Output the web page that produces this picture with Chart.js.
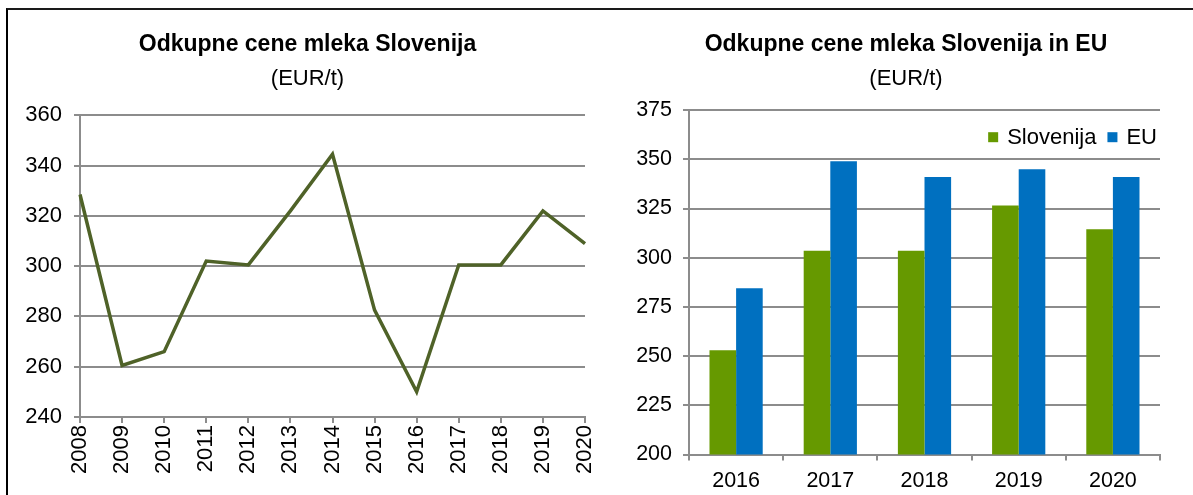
<!DOCTYPE html>
<html lang="sl">
<head>
<meta charset="utf-8">
<title>Odkupne cene mleka</title>
<script src="https://cdn.jsdelivr.net/npm/chart.js@4.4.1/dist/chart.umd.min.js"></script>
<style>
    html, body { margin: 0; padding: 0; background: #fff; }
    body { width: 1193px; height: 495px; position: relative; overflow: hidden; }
    #okvir {
        position: absolute; left: 6px; top: 8px; width: 1200px; height: 500px;
        border-top: 2px solid #1a1a1a; border-left: 2px solid #000;
    }
    canvas { position: absolute; top: 0; }
    #graf-leta { left: 0; }
    #graf-eu { left: 619px; }
</style>
</head>
<body>
<div id="okvir"></div>
<canvas id="graf-leta" width="615" height="495"></canvas>
<canvas id="graf-eu" width="574" height="495"></canvas>

<script>
// Odkupne cene mleka po letih (EUR/t)
const leta = ["2008", "2009", "2010", "2011", "2012", "2013", "2014",
              "2015", "2016", "2017", "2018", "2019", "2020"];
const cenaSlovenija = [328.5, 260.5, 266, 302, 300.5, 322, 344.5,
                       282.5, 250, 300.5, 300.5, 322, 309];

// Primerjava Slovenija / EU
const letaPrimerjava = ["2016", "2017", "2018", "2019", "2020"];
const cenaSloPrimerjava = [253, 303.5, 303.5, 326.5, 314.5];
const cenaEU = [284.5, 349, 341, 345, 341];

const PISAVA = "'Liberation Sans', Arial, sans-serif";
const SIVA = "#8c8c8c";

Chart.defaults.font.family = PISAVA;
Chart.defaults.color = "#000";

// skupni naslov + podnaslov za oba grafa
const naslov = (besedilo) => ({
    display: true,
    text: besedilo,
    color: "#000",
    font: { size: 23, weight: "bold", lineHeight: 1.2 },
    padding: { top: 31, bottom: 0 }
});
const podnaslov = (spodaj) => ({
    display: true,
    text: "(EUR/t)",
    color: "#000",
    font: { size: 22, weight: "normal", lineHeight: 1.2 },
    padding: { top: 7.5, bottom: spodaj }
});

// prazna desna os samo zadrži prostor desno od risalne ploskve
const desniRob = (sirina) => ({
    position: "right",
    display: true,
    grid: { display: false },
    border: { display: false },
    ticks: { display: false },
    afterFit: (s) => { s.width = sirina; }
});

// legenda znotraj risalne ploskve, zgoraj desno, v eni vrstici
const legendaZnotraj = {
    id: "legendaZnotraj",
    afterDraw(chart) {
        const { ctx, chartArea } = chart;
        const kvadrat = 10, doBesedila = 9, medPostavkami = 11;
        ctx.save();
        ctx.font = "22px " + PISAVA;
        ctx.textBaseline = "middle";
        const postavke = chart.data.datasets.map(ds => ({
            besedilo: ds.label,
            barva: ds.backgroundColor,
            sirina: ctx.measureText(ds.label).width
        }));
        const skupaj = postavke.reduce((s, p) => s + kvadrat + doBesedila + p.sirina, 0)
            + medPostavkami * (postavke.length - 1);
        let x = chartArea.right - 3 - skupaj;
        const y = chartArea.top + 27;
        postavke.forEach(p => {
            ctx.fillStyle = p.barva;
            ctx.fillRect(x, y - kvadrat / 2, kvadrat, kvadrat);
            x += kvadrat + doBesedila;
            ctx.fillStyle = "#000";
            ctx.fillText(p.besedilo, x, y + 1);
            x += p.sirina + medPostavkami;
        });
        ctx.restore();
    }
};

// ==== 1) Črtni graf: Slovenija 2008-2020 ====
new Chart(document.getElementById("graf-leta"), {
    type: "line",
    data: {
        labels: leta,
        datasets: [{
            label: "Slovenija",
            data: cenaSlovenija,
            borderColor: "#4f6228",
            borderWidth: 3.5,
            pointRadius: 0,
            tension: 0
        }]
    },
    options: {
        responsive: false,
        animation: false,
        layout: { padding: 0 },
        plugins: {
            title: naslov("Odkupne cene mleka Slovenija"),
            subtitle: podnaslov(22.8),
            legend: { display: false },
            tooltip: { enabled: false }
        },
        scales: {
            x: {
                offset: false,
                border: { color: SIVA, width: 2 },
                grid: { drawOnChartArea: false, color: SIVA, lineWidth: 2, tickLength: 6 },
                ticks: { autoSkip: false, minRotation: 90, maxRotation: 90, padding: 2,
                         font: { size: 22 } },
                afterFit: (s) => { s.height = 78; }
            },
            y: {
                min: 240,
                max: 360,
                border: { color: SIVA, width: 2 },
                grid: { color: SIVA, lineWidth: 2, tickLength: 6 },
                ticks: { stepSize: 20, padding: 12, font: { size: 22 } },
                afterFit: (s) => { s.width = 80; }
            },
            rob: desniRob(30)
        }
    }
});

// ==== 2) Stolpčni graf: Slovenija in EU 2016-2020 ====
new Chart(document.getElementById("graf-eu"), {
    type: "bar",
    data: {
        labels: letaPrimerjava,
        datasets: [
            {
                label: "Slovenija",
                data: cenaSloPrimerjava,
                backgroundColor: "#669900",
                categoryPercentage: 0.565,
                barPercentage: 1.0
            },
            {
                label: "EU",
                data: cenaEU,
                backgroundColor: "#0070c0",
                categoryPercentage: 0.565,
                barPercentage: 1.0
            }
        ]
    },
    plugins: [legendaZnotraj],
    options: {
        responsive: false,
        animation: false,
        layout: { padding: 0 },
        plugins: {
            title: naslov("Odkupne cene mleka Slovenija in EU"),
            subtitle: podnaslov(17.7),
            legend: { display: false },
            tooltip: { enabled: false }
        },
        scales: {
            x: {
                border: { color: SIVA, width: 2 },
                grid: { drawOnChartArea: false, color: SIVA, lineWidth: 2, tickLength: 6 },
                ticks: { padding: 8, font: { size: 21.5 } },
                afterFit: (s) => { s.height = 40.5; }
            },
            y: {
                min: 200,
                max: 375,
                border: { color: SIVA, width: 2 },
                grid: { color: SIVA, lineWidth: 2, tickLength: 6 },
                ticks: { stepSize: 25, padding: 11, font: { size: 21.5 } },
                afterFit: (s) => { s.width = 70; }
            },
            rob: desniRob(33)
        }
    }
});
</script>
</body>
</html>
